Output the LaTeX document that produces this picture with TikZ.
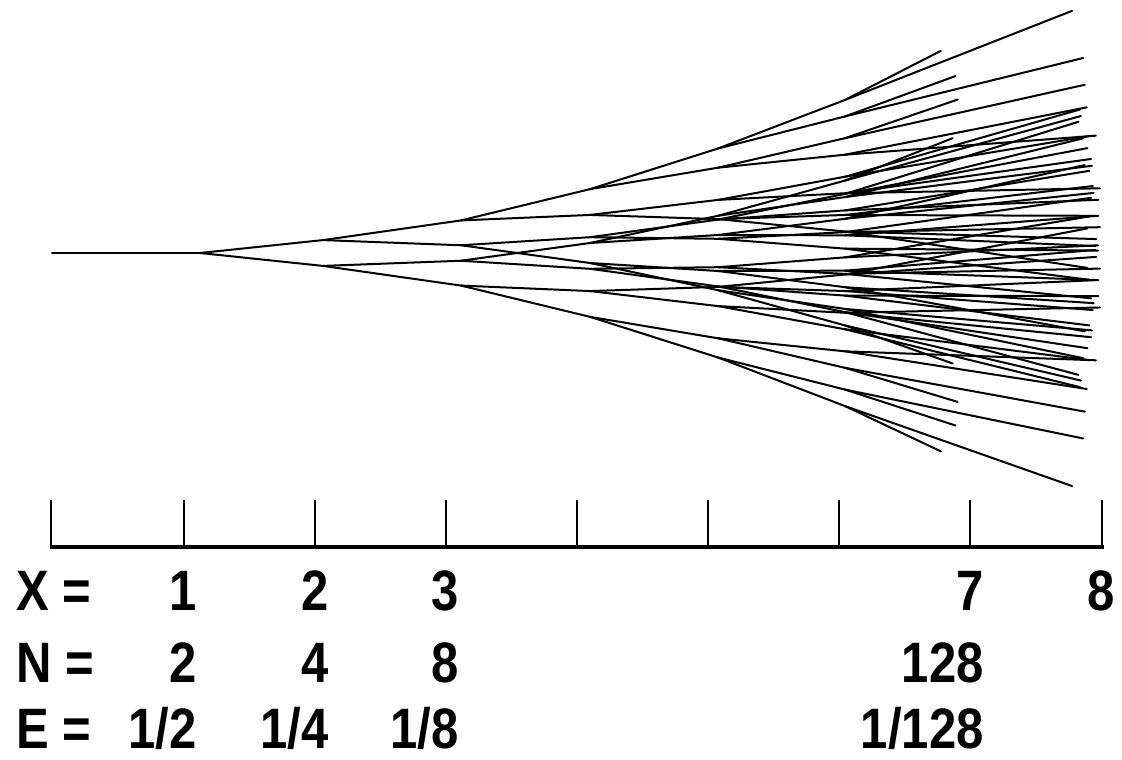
\documentclass[tikz,border=0pt]{standalone}
\usepackage{fontspec}
\newfontfamily\labfont{Liberation Sans}[FakeStretch=0.86]
\tikzset{
  branch/.style={line width=1pt, line cap=round},
  axisline/.style={line width=2pt},
  tickline/.style={line width=1.1pt},
  lab/.style={font=\labfont\bfseries\fontsize{28.5}{30}\selectfont, inner sep=0pt, text depth=0pt, anchor=base east},
  labl/.style={lab, anchor=base west},
}
\begin{document}
\begin{tikzpicture}[x=0.5pt,y=-0.5pt]
\useasboundingbox (0,0) rectangle (1122,759);
\fill[white] (0,0) rectangle (1122,759);
% ---------- cascade tree ----------
\coordinate (r) at (52,253);
\coordinate (n1-0) at (200,253);
\draw[branch] (r) -- (n1-0);
\expandafter\xdef\csname Y1-0\endcsname{253}
\expandafter\xdef\csname S1-0\endcsname{0}
\foreach \L/\xa/\xb/\aa/\dd in {1/200/323/1/0.105, 2/323/461/0.5/0.09, 3/461/590/1/0.1, 4/590/718/1/0.075, 5/718/845/1/0.065}{
  \pgfmathtruncatemacro\Lnext{\L+1}
  \pgfmathtruncatemacro\nmax{2^(\L-1)-1}
  \foreach \i in {0,...,\nmax}{
    \edef\Yp{\csname Y\L-\i\endcsname}
    \edef\Sp{\csname S\L-\i\endcsname}
    \foreach \j in {0,1}{
      \pgfmathsetmacro\cc{\aa*\Sp+(2*\j-1)*\dd}
      \pgfmathsetmacro\yy{\Yp+\cc*(\xb-\xa)}
      \pgfmathtruncatemacro\ch{2*\i+\j}
      \expandafter\xdef\csname Y\Lnext-\ch\endcsname{\yy}
      \expandafter\xdef\csname S\Lnext-\ch\endcsname{\cc}
      \coordinate (n\Lnext-\ch) at (\xb,\yy);
      \draw[branch] (n\L-\i) -- (n\Lnext-\ch);
    }
  }
}
\foreach \i in {0,...,31}{
  \edef\Yp{\csname Y6-\i\endcsname}
  \edef\Sp{\csname S6-\i\endcsname}
  \foreach \j in {0,1}{
    \pgfmathsetmacro\cc{1.13*\Sp+(2*\j-1)*0.06}
    \pgfmathsetmacro\isshort{and(abs(\Sp)>0.21, abs(\cc)>abs(\Sp))}
    \pgfmathsetmacro\xe{\isshort>0.5 ? 990-100*abs(\cc) : 1100-75*abs(\cc)}
    \pgfmathsetmacro\ye{\Yp+(\cc-0.02)*(\xe-845)}
    \pgfmathtruncatemacro\ch{2*\i+\j}
    \coordinate (e-\ch) at (\xe,\ye);
    \draw[branch] (n6-\i) -- (e-\ch);
  }
}
% ---------- axis ----------
\coordinate (a0) at (50,547);
\coordinate (a9) at (1104,547);
\draw[axisline] (a0) -- (a9);
\foreach \k/\tx in {0/51,1/184,2/315,3/446,4/577,5/708,6/839,7/970,8/1102}{
  \coordinate (t\k) at (\tx,500);
  \coordinate (b\k) at (\tx,547);
  \draw[tickline] (t\k) -- (b\k);
}
% ---------- labels ----------
\node[labl] (lx) at (16,610) {X =};
\node[lab] (x1) at (197,610) {1};
\node[lab] (x2) at (329,610) {2};
\node[lab] (x3) at (459,610) {3};
\node[lab] (x7) at (984,610) {7};
\node[lab] (x8) at (1115,610) {8};
\node[labl] (ln) at (16,682) {N =};
\node[lab] (n1) at (197,682) {2};
\node[lab] (n2) at (329,682) {4};
\node[lab] (n3) at (459,682) {8};
\node[lab] (n7) at (984,682) {128};
\node[labl] (le) at (16,748) {E =};
\node[lab] (e1) at (197,748) {1/2};
\node[lab] (e2) at (329,748) {1/4};
\node[lab] (e3) at (459,748) {1/8};
\node[lab] (e7) at (984,748) {1/128};
\end{tikzpicture}
\end{document}
